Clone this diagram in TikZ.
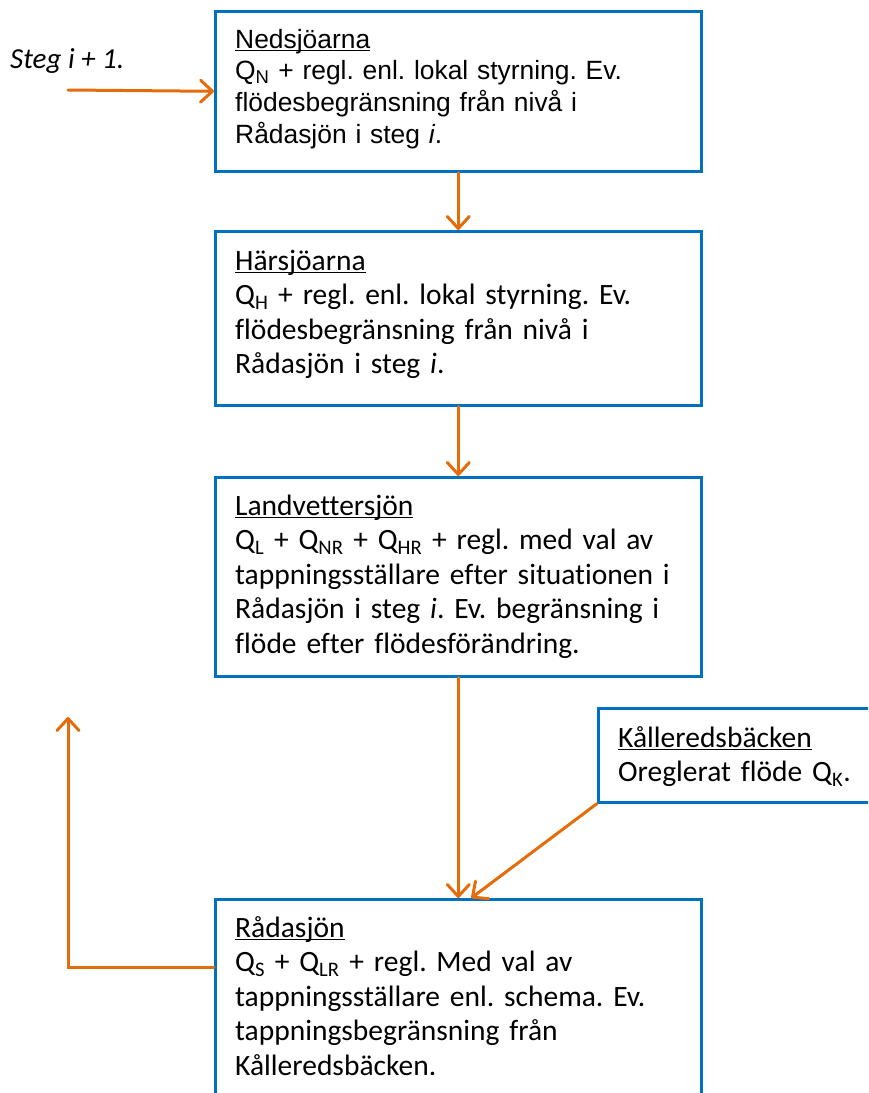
\documentclass[tikz,border=0pt]{standalone}
\usepackage{fontspec}
\setmainfont[Ligatures=NoCommon]{Carlito}
\newfontfamily\arialf{Liberation Sans}
\usetikzlibrary{arrows.meta}
\definecolor{boxblue}{HTML}{0070C0}
\definecolor{arrorange}{HTML}{E46C0A}
\newcommand\myul[1]{\setbox0\hbox{#1}\rlap{\rule[-3.4pt]{\wd0}{1.6pt}}\box0}
\tikzset{
  box/.style={draw=boxblue, line width=2.6pt, fill=white, inner sep=0pt, anchor=north west},
  arr/.style={draw=arrorange, line width=3pt, line cap=round, -{Straight Barb[length=12pt,width=22pt,line cap=round,line join=round]}},
  txt/.style={anchor=base west, inner sep=0pt, text width=500pt, align=left},
  cal/.style={font=\frenchspacing\fontsize{29.5pt}{34.5pt}\selectfont},
  ari/.style={font=\frenchspacing\arialf\fontsize{26.4pt}{31.7pt}\selectfont}
}
\begin{document}
\begin{tikzpicture}[x=1pt,y=-1pt]
\useasboundingbox (0,0) rectangle (868,1093);
\clip (0,0) rectangle (868,1093);
% boxes
\node[box, minimum width=486pt, minimum height=160pt] (n) at (214,10) {};
\node[box, minimum width=486pt, minimum height=174pt] (h) at (214,230) {};
\node[box, minimum width=486pt, minimum height=199pt] (l) at (214,476) {};
\node[box, minimum width=290pt, minimum height=94pt] (k) at (597,707) {};
\node[box, minimum width=486pt, minimum height=220pt] (r) at (214,898) {};
% texts
\node[txt, ari] (tn) at (235,48) {\myul{Nedsjöarna}\\
Q\textsubscript{N} + regl. enl. lokal styrning. Ev.\\
flödesbegränsning från nivå i\\
Rådasjön i steg \textit{i}.};
\node[txt, cal] (th) at (235,270) {\myul{Härsjöarna}\\
Q\textsubscript{H} + regl. enl. lokal styrning. Ev.\\
flödesbegränsning från nivå i\\
Rådasjön i steg \textit{i}.};
\node[txt, cal] (tl) at (235,515) {\myul{Landvettersjön}\\
Q\textsubscript{L} + Q\textsubscript{NR} + Q\textsubscript{HR} + regl. med val av\\
tappningsställare efter situationen i\\
Rådasjön i steg \textit{i}. Ev. begränsning i\\
flöde efter flödesförändring.};
\node[txt, cal, text width=260pt] (tk) at (618,747) {\myul{Kålleredsbäcken}\\
Oreglerat flöde Q\textsubscript{K}.};
\node[txt, cal] (tr) at (235,937) {\myul{Rådasjön}\\
Q\textsubscript{S} + Q\textsubscript{LR} + regl. Med val av\\
tappningsställare enl. schema. Ev.\\
tappningsbegränsning från\\
Kålleredsbäcken.};
\node[anchor=base west, inner sep=0pt, font=\fontsize{29pt}{30pt}\selectfont\itshape] (steg) at (10,68) {Steg i + 1.};
% connectors
\coordinate (s0) at (68,90);
\coordinate (fb) at (68,967);
\coordinate (fbtop) at (68,717);
\draw[arr] (s0) -- (n.west);
\draw[arr] (n.south) -- (h.north);
\draw[arr] (h.south) -- (l.north);
\draw[arr] (l.south) -- (r.north);
\draw[arr] (k.south west) -- ([xshift=13pt]r.north);
\draw[arr] (r.west |- fb) -- (fb) -- (fbtop);
\end{tikzpicture}
\end{document}
